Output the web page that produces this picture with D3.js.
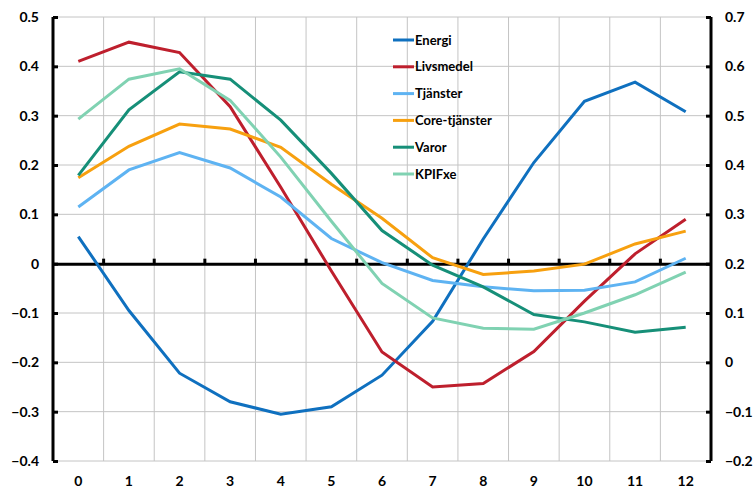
<!DOCTYPE html>
<html>
<head>
<meta charset="utf-8">
<script src="https://cdn.jsdelivr.net/npm/d3@7"></script>
<style>
  body { margin: 0; background: #fff; }
  svg text { font-family: Lato, "Liberation Sans", sans-serif; font-weight: 700; fill: #000; }
</style>
</head>
<body>
<div id="chart"></div>
<script>
// data
var months = [0, 1, 2, 3, 4, 5, 6, 7, 8, 9, 10, 11, 12];
var energi      = [0.055, -0.095, -0.222, -0.28, -0.305, -0.29, -0.226, -0.117, 0.05, 0.205, 0.329, 0.368, 0.308];
var livsmedel   = [0.41, 0.449, 0.428, 0.318, 0.155, -0.015, -0.179, -0.25, -0.243, -0.178, -0.076, 0.02, 0.09];
var tjanster    = [0.115, 0.19, 0.225, 0.194, 0.135, 0.051, 0.002, -0.034, -0.047, -0.055, -0.054, -0.037, 0.011];
var coreTjanster= [0.174, 0.238, 0.283, 0.273, 0.236, 0.161, 0.092, 0.012, -0.022, -0.015, -0.001, 0.04, 0.066];
var varor       = [0.179, 0.312, 0.389, 0.374, 0.291, 0.183, 0.067, -0.003, -0.047, -0.103, -0.118, -0.139, -0.129];
var kpifxe      = [0.293, 0.374, 0.395, 0.331, 0.216, 0.086, -0.04, -0.11, -0.131, -0.133, -0.1, -0.063, -0.017];

var seriesNames = ["Energi", "Livsmedel", "Tjänster", "Core-tjänster", "Varor", "KPIFxe"];
var seriesValues = [energi, livsmedel, tjanster, coreTjanster, varor, kpifxe];
var seriesColors = ["#0f70bf", "#be1f2d", "#5eb3f2", "#f7a00f", "#168f78", "#80d2b2"];

var leftTicks = [-0.4, -0.3, -0.2, -0.1, 0, 0.1, 0.2, 0.3, 0.4, 0.5];
var rightTicks = [-0.2, -0.1, 0, 0.1, 0.2, 0.3, 0.4, 0.5, 0.6, 0.7];

var width = 755, height = 488;
var margin = {top: 17, bottom: 27, left: 53, right: 44};

var svg = d3.select("#chart").append("svg")
    .attr("width", width)
    .attr("height", height);

var x = d3.scaleBand()
    .domain(months)
    .range([margin.left, width - margin.right])
    .padding(0);

var y = d3.scaleLinear()
    .domain([-0.4, 0.5])
    .range([height - margin.bottom, margin.top]);

var y2 = d3.scaleLinear()
    .domain([-0.2, 0.7])
    .range([height - margin.bottom, margin.top]);

var fmt = function(d) { return d === 0 ? "0" : d3.format(".1f")(d); };

// grid
var grid = svg.append("g").attr("class", "grid");
grid.selectAll(".hgrid")
    .data(leftTicks)
    .enter().append("line")
    .attr("x1", margin.left).attr("x2", width - margin.right)
    .attr("y1", function(d) { return y(d); }).attr("y2", function(d) { return y(d); })
    .attr("stroke", "#c4c4c4").attr("stroke-width", 1);

grid.selectAll(".vgrid")
    .data(months.slice(1))
    .enter().append("line")
    .attr("x1", function(d) { return x(d); }).attr("x2", function(d) { return x(d); })
    .attr("y1", y(0.5)).attr("y2", y(-0.4))
    .attr("stroke", "#c4c4c4").attr("stroke-width", 1);

// zero line with ticks
svg.append("g")
    .attr("class", "x axis")
    .attr("transform", "translate(0," + y(0) + ")")
    .call(d3.axisTop(x).tickValues(months.slice(1)).tickSize(0).tickFormat(""))
    .call(function(g) {
        g.select(".domain").attr("stroke", "#000").attr("stroke-width", 3);
        g.selectAll(".tk").data(months.slice(1)).enter().append("line")
            .attr("x1", function(d) { return x(d); }).attr("x2", function(d) { return x(d); })
            .attr("y1", 0).attr("y2", -5)
            .attr("stroke", "#000").attr("stroke-width", 3);
    });

// x labels
svg.selectAll(".xlab")
    .data(months)
    .enter().append("text")
    .attr("class", "xlab")
    .attr("x", function(d) { return x(d) + x.bandwidth() / 2; })
    .attr("y", 486)
    .attr("text-anchor", "middle")
    .style("font-size", "14px")
    .text(function(d) { return d; });

// left axis
svg.append("g")
    .attr("class", "y axis")
    .attr("transform", "translate(" + margin.left + ",0)")
    .call(d3.axisRight(y).tickValues(leftTicks).tickSize(5).tickFormat(""))
    .call(function(g) {
        g.select(".domain").attr("stroke", "#000").attr("stroke-width", 3).attr("d", "M0," + y(0.5) + "V" + y(-0.4));
        g.selectAll(".tick line").attr("stroke", "#000").attr("stroke-width", 3);
    });

svg.selectAll(".ylab")
    .data(leftTicks)
    .enter().append("text")
    .attr("x", 39)
    .attr("y", function(d) { return y(d); })
    .attr("dy", "0.35em")
    .attr("text-anchor", "end")
    .style("font-size", "14px")
    .text(fmt);

// right axis
svg.append("g")
    .attr("class", "y2 axis")
    .attr("transform", "translate(" + (width - margin.right) + ",0)")
    .call(d3.axisLeft(y2).tickValues(rightTicks).tickSize(5).tickFormat(""))
    .call(function(g) {
        g.select(".domain").attr("stroke", "#000").attr("stroke-width", 3).attr("d", "M0," + y2(0.7) + "V" + y2(-0.2));
        g.selectAll(".tick line").attr("stroke", "#000").attr("stroke-width", 3);
    });

svg.selectAll(".y2lab")
    .data(rightTicks)
    .enter().append("text")
    .attr("x", 725)
    .attr("y", function(d) { return y2(d); })
    .attr("dy", "0.35em")
    .attr("text-anchor", "start")
    .style("font-size", "14px")
    .text(fmt);

// lines
var line = d3.line()
    .x(function(d, i) { return x(months[i]) + x.bandwidth() / 2; })
    .y(function(d) { return y(d); });

svg.selectAll(".series")
    .data(seriesValues)
    .enter().append("path")
    .attr("class", "series")
    .attr("d", line)
    .attr("fill", "none")
    .attr("stroke", function(d, i) { return seriesColors[i]; })
    .attr("stroke-width", 3);

// legend
var legend = svg.selectAll(".legend")
    .data(seriesNames)
    .enter().append("g")
    .attr("class", "legend")
    .attr("transform", function(d, i) { return "translate(393," + (40 + i * 26.8) + ")"; });

legend.append("line")
    .attr("x1", 0).attr("x2", 21)
    .attr("y1", 0).attr("y2", 0)
    .attr("stroke", function(d, i) { return seriesColors[i]; })
    .attr("stroke-width", 3);

legend.append("text")
    .attr("x", 22)
    .attr("y", 0)
    .attr("dy", "0.35em")
    .style("font-size", "13px")
    .text(function(d) { return d; });
</script>
</body>
</html>
